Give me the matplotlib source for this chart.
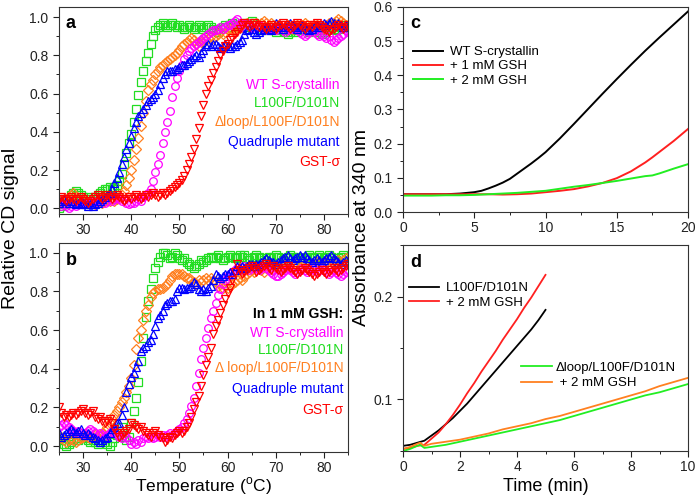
import numpy as np
import matplotlib
matplotlib.use("Agg")
import matplotlib.pyplot as plt
from matplotlib.ticker import MultipleLocator

plt.rcParams['font.family'] = ['Liberation Sans', 'DejaVu Sans']
plt.rcParams['mathtext.fontset'] = 'custom'
plt.rcParams['mathtext.rm'] = 'Liberation Sans'
plt.rcParams['axes.linewidth'] = 0.8

# ---------------- data ----------------
temperature = np.arange(25, 85.01, 0.5)

# Panel a (no GSH)
a_wt = [0.02,0.01,0.02,0.01,0.00,0.01,0.02,0.01,0.02,0.03,0.02,
        0.03,0.02,0.03,0.04,0.03,0.04,0.05,0.04,0.03,0.04,
        0.05,0.04,0.05,0.06,0.05,0.04,0.05,0.03,0.02,0.03,
        0.03,0.04,0.05,0.04,0.06,0.07,0.08,0.10,0.14,0.19,
        0.23,0.28,0.34,0.40,0.45,0.51,0.58,0.64,0.68,0.72,
        0.75,0.78,0.80,0.82,0.84,0.85,0.86,0.87,0.88,0.89,
        0.90,0.91,0.92,0.93,0.93,0.94,0.95,0.94,0.95,0.96,
        0.96,0.97,0.98,0.99,0.97,0.95,0.96,0.97,0.96,0.95,
        0.94,0.95,0.96,0.95,0.94,0.93,0.94,0.95,0.94,0.93,
        0.94,0.95,0.93,0.92,0.93,0.94,0.95,0.94,0.93,0.92,
        0.91,0.90,0.91,0.92,0.93,0.92,0.91,0.90,0.91,0.90,
        0.89,0.90,0.88,0.87,0.88,0.89,0.90,0.91,0.93,0.92]
a_l100f = [0.00,0.01,0.02,0.03,0.05,0.07,0.08,0.09,0.08,0.07,0.06,
           0.05,0.06,0.05,0.04,0.06,0.07,0.08,0.09,0.10,0.10,
           0.11,0.10,0.11,0.12,0.14,0.18,0.23,0.29,0.34,0.39,
           0.45,0.52,0.59,0.66,0.72,0.77,0.81,0.86,0.90,0.93,
           0.95,0.96,0.97,0.96,0.95,0.96,0.97,0.96,0.95,0.96,
           0.95,0.94,0.95,0.96,0.95,0.94,0.95,0.96,0.95,0.94,
           0.95,0.96,0.95,0.94,0.93,0.92,0.94,0.95,0.96,0.95,
           0.96,0.97,0.96,0.95,0.96,0.97,0.96,0.95,0.97,0.98,
           0.97,0.96,0.95,0.94,0.93,0.94,0.95,0.94,0.93,0.92,
           0.93,0.94,0.93,0.92,0.91,0.92,0.93,0.92,0.93,0.94,
           0.95,0.94,0.93,0.92,0.93,0.94,0.93,0.92,0.91,0.92,
           0.93,0.94,0.95,0.94,0.93,0.94,0.95,0.96,0.95,0.96]
a_dloop = [0.03,0.04,0.05,0.04,0.06,0.07,0.08,0.06,0.05,0.04,0.05,
           0.04,0.03,0.04,0.03,0.02,0.03,0.04,0.03,0.04,0.05,
           0.04,0.05,0.04,0.05,0.06,0.07,0.09,0.12,0.16,0.20,
           0.25,0.31,0.37,0.43,0.50,0.56,0.62,0.65,0.67,0.70,
           0.72,0.74,0.75,0.76,0.77,0.78,0.79,0.80,0.81,0.83,
           0.85,0.86,0.87,0.88,0.89,0.88,0.86,0.85,0.87,0.89,
           0.88,0.89,0.90,0.89,0.90,0.91,0.92,0.91,0.92,0.93,
           0.94,0.93,0.94,0.95,0.96,0.95,0.96,0.97,0.96,0.95,
           0.96,0.97,0.96,0.97,0.98,0.97,0.96,0.97,0.96,0.95,
           0.96,0.95,0.94,0.95,0.96,0.95,0.94,0.95,0.96,0.95,
           0.96,0.97,0.96,0.95,0.94,0.95,0.96,0.95,0.94,0.95,
           0.96,0.97,0.96,0.97,0.98,0.99,0.98,0.97,0.96,0.95]
a_quad = [0.03,0.04,0.05,0.04,0.03,0.04,0.03,0.02,0.03,0.02,0.03,
          0.02,0.01,0.02,0.01,0.02,0.03,0.04,0.05,0.06,0.07,
          0.08,0.10,0.13,0.16,0.19,0.23,0.27,0.31,0.34,0.38,
          0.42,0.45,0.48,0.50,0.52,0.54,0.56,0.57,0.58,0.60,
          0.62,0.65,0.68,0.70,0.72,0.72,0.72,0.73,0.73,0.74,
          0.75,0.75,0.76,0.77,0.78,0.79,0.80,0.79,0.81,0.83,
          0.85,0.86,0.85,0.86,0.86,0.85,0.84,0.85,0.86,0.85,
          0.84,0.85,0.85,0.86,0.87,0.88,0.91,0.93,0.94,0.94,
          0.92,0.91,0.92,0.93,0.94,0.95,0.94,0.93,0.95,0.97,
          0.96,0.95,0.94,0.95,0.96,0.97,0.96,0.95,0.94,0.95,
          0.96,0.95,0.94,0.93,0.94,0.95,0.96,0.95,0.96,0.97,
          0.96,0.97,0.98,0.97,0.96,0.97,0.96,0.95,0.96,0.95]
a_gst = [0.05,0.06,0.05,0.04,0.05,0.06,0.05,0.04,0.05,0.06,0.05,
         0.04,0.03,0.04,0.05,0.06,0.07,0.06,0.05,0.06,0.07,
         0.06,0.05,0.06,0.07,0.06,0.05,0.04,0.05,0.06,0.05,
         0.06,0.07,0.06,0.05,0.06,0.07,0.06,0.07,0.08,0.07,
         0.06,0.07,0.08,0.07,0.08,0.09,0.10,0.11,0.12,0.13,
         0.15,0.17,0.20,0.23,0.27,0.31,0.36,0.42,0.48,0.54,
         0.60,0.64,0.67,0.71,0.74,0.77,0.80,0.82,0.85,0.86,
         0.88,0.89,0.91,0.92,0.94,0.96,0.97,0.96,0.95,0.96,
         0.97,0.96,0.95,0.96,0.95,0.94,0.95,0.96,0.95,0.94,
         0.95,0.96,0.97,0.96,0.95,0.94,0.95,0.96,0.97,0.96,
         0.95,0.94,0.95,0.96,0.95,0.96,0.97,0.96,0.95,0.94,
         0.93,0.92,0.93,0.94,0.95,0.96,0.95,0.94,0.95,0.96]

# Panel b (1 mM GSH)
b_wt = [0.10,0.11,0.12,0.11,0.10,0.09,0.08,0.07,0.08,0.07,0.06,
        0.07,0.08,0.09,0.08,0.07,0.06,0.07,0.06,0.05,0.06,
        0.07,0.08,0.07,0.06,0.05,0.04,0.06,0.05,0.03,0.01,
        0.02,0.01,0.03,0.02,0.04,0.05,0.04,0.05,0.04,0.05,
        0.06,0.05,0.06,0.05,0.06,0.07,0.06,0.07,0.08,0.09,
        0.10,0.12,0.14,0.17,0.21,0.25,0.31,0.38,0.45,0.51,
        0.56,0.61,0.66,0.70,0.74,0.78,0.81,0.84,0.86,0.88,
        0.89,0.90,0.91,0.92,0.91,0.92,0.93,0.92,0.91,0.92,
        0.93,0.92,0.91,0.92,0.93,0.92,0.91,0.90,0.89,0.88,
        0.88,0.89,0.90,0.91,0.92,0.91,0.90,0.89,0.90,0.91,
        0.92,0.91,0.90,0.91,0.92,0.91,0.90,0.91,0.92,0.91,
        0.90,0.89,0.90,0.91,0.90,0.89,0.88,0.89,0.90,0.91]
b_l100f = [0.05,0.03,0.01,0.00,0.01,0.02,0.03,0.04,0.03,0.04,0.05,
           0.04,0.03,0.02,0.03,0.02,0.01,0.02,0.03,0.02,0.01,
           0.00,0.02,0.04,0.06,0.08,0.10,0.05,0.03,0.05,0.12,
           0.18,0.25,0.33,0.44,0.56,0.67,0.75,0.81,0.87,0.92,
           0.95,0.98,1.00,1.00,0.99,0.97,0.98,1.00,0.99,0.97,
           0.96,0.97,0.95,0.94,0.93,0.92,0.93,0.94,0.96,0.95,
           0.96,0.97,0.98,0.97,0.98,0.99,0.97,0.96,0.97,0.98,
           0.99,0.98,0.97,0.98,0.99,0.98,0.99,0.97,0.96,0.97,
           0.98,0.99,0.98,0.97,0.96,0.97,0.98,0.97,0.98,0.99,
           0.98,0.97,0.96,0.97,0.98,0.99,0.98,0.97,0.98,0.97,
           0.96,0.97,0.98,0.99,0.98,0.97,0.98,0.99,0.98,0.97,
           0.98,0.99,0.98,0.97,0.96,0.97,0.98,0.99,0.98,0.97]
b_dloop = [0.06,0.04,0.03,0.02,0.03,0.04,0.03,0.02,0.03,0.04,0.05,
           0.06,0.05,0.04,0.05,0.06,0.05,0.06,0.07,0.08,0.10,
           0.12,0.14,0.16,0.18,0.20,0.23,0.25,0.28,0.31,0.35,
           0.42,0.50,0.56,0.60,0.65,0.70,0.73,0.77,0.79,0.80,
           0.81,0.81,0.82,0.83,0.84,0.86,0.88,0.89,0.89,0.89,
           0.89,0.88,0.87,0.87,0.86,0.85,0.84,0.86,0.85,0.86,
           0.87,0.86,0.87,0.86,0.85,0.83,0.84,0.82,0.83,0.82,
           0.83,0.84,0.85,0.86,0.87,0.86,0.88,0.89,0.90,0.91,
           0.90,0.91,0.92,0.91,0.90,0.92,0.93,0.92,0.91,0.92,
           0.93,0.92,0.93,0.94,0.93,0.92,0.93,0.94,0.93,0.92,
           0.93,0.94,0.93,0.92,0.93,0.94,0.95,0.94,0.93,0.94,
           0.95,0.94,0.93,0.94,0.95,0.96,0.95,0.96,0.97,0.96]
b_quad = [0.07,0.05,0.06,0.07,0.08,0.09,0.08,0.07,0.08,0.09,0.07,
          0.06,0.07,0.06,0.05,0.04,0.03,0.02,0.03,0.04,0.05,
          0.07,0.09,0.10,0.12,0.12,0.16,0.20,0.28,0.32,0.36,
          0.38,0.41,0.44,0.49,0.51,0.52,0.54,0.55,0.58,0.62,
          0.66,0.68,0.70,0.73,0.74,0.75,0.75,0.76,0.80,0.82,
          0.82,0.81,0.82,0.82,0.83,0.85,0.84,0.81,0.80,0.81,
          0.80,0.82,0.83,0.86,0.89,0.88,0.87,0.88,0.89,0.89,
          0.90,0.89,0.91,0.93,0.92,0.93,0.92,0.93,0.94,0.94,
          0.93,0.94,0.94,0.95,0.96,0.97,0.96,0.95,0.95,0.94,
          0.95,0.96,0.97,0.98,0.99,0.97,0.96,0.97,0.98,0.99,
          0.98,0.99,0.97,0.96,0.95,0.96,0.97,0.96,0.95,0.96,
          0.97,0.98,0.99,0.97,0.96,0.95,0.94,0.95,0.96,0.95]
b_gst = [0.20,0.17,0.15,0.16,0.15,0.16,0.17,0.16,0.17,0.18,0.19,
         0.17,0.16,0.17,0.18,0.15,0.14,0.15,0.13,0.12,0.13,
         0.14,0.12,0.09,0.07,0.05,0.06,0.07,0.08,0.09,0.12,
         0.11,0.10,0.09,0.10,0.08,0.07,0.06,0.05,0.07,0.08,
         0.06,0.05,0.04,0.02,0.03,0.05,0.04,0.06,0.07,0.08,
         0.07,0.08,0.10,0.12,0.15,0.19,0.23,0.26,0.31,0.37,
         0.42,0.46,0.51,0.58,0.62,0.65,0.69,0.73,0.76,0.79,
         0.82,0.86,0.90,0.94,0.91,0.89,0.90,0.91,0.92,0.93,
         0.92,0.90,0.91,0.92,0.93,0.94,0.92,0.91,0.93,0.92,
         0.91,0.90,0.91,0.92,0.93,0.92,0.91,0.90,0.89,0.90,
         0.91,0.92,0.91,0.90,0.89,0.88,0.89,0.90,0.91,0.90,
         0.89,0.90,0.91,0.92,0.91,0.90,0.91,0.92,0.93,0.94]

# Panel c (turbidity, WT S-crystallin)
c_time = [0,1,2,3,3.5,4,4.5,5,5.5,6,6.5,7,7.5,8,8.5,9,9.5,10,11,12,13,14,15,16,17,18,19,20]
c_wt = [0.052,0.052,0.052,0.052,0.053,0.054,0.056,0.058,0.062,0.069,0.077,0.086,0.097,0.112,
        0.127,0.142,0.158,0.175,0.215,0.258,0.302,0.346,0.389,0.431,0.472,0.511,0.549,0.587]
c_time2 = [0,1,2,3,4,5,6,7,8,9,10,11,12,13,14,15,16,17,17.5,18,19,20]
c_gsh1 = [0.052,0.052,0.052,0.052,0.052,0.052,0.052,0.051,0.052,0.054,0.058,0.062,0.067,
          0.075,0.085,0.099,0.119,0.145,0.160,0.176,0.208,0.243]
c_gsh2 = [0.048,0.048,0.048,0.049,0.049,0.050,0.052,0.054,0.056,0.059,0.062,0.068,0.074,
          0.079,0.085,0.091,0.098,0.105,0.107,0.113,0.127,0.140]

# Panel d
d_time1 = [0,0.25,0.5,0.75,1,1.25,1.5,1.75,2,2.25,2.5,2.75,3,3.25,3.5,3.75,4,4.25,4.5,4.75,5]
d_l100f = [0.055,0.056,0.058,0.060,0.065,0.070,0.076,0.082,0.089,0.096,0.104,0.112,0.120,
           0.128,0.136,0.144,0.152,0.160,0.168,0.177,0.187]
d_l100f_gsh = [0.052,0.053,0.055,0.056,0.062,0.068,0.076,0.085,0.095,0.106,0.116,0.127,0.137,
               0.147,0.158,0.168,0.178,0.189,0.199,0.210,0.221]
d_time2 = [0,0.25,0.5,0.6,0.75,1,1.5,2,2.5,3,3.5,4,4.5,5,5.5,6,6.5,7,7.5,8,8.5,9,9.5,10]
d_dloop = [0.050,0.052,0.055,0.056,0.053,0.054,0.056,0.059,0.062,0.065,0.068,0.071,0.074,0.077,
           0.080,0.084,0.088,0.092,0.096,0.100,0.104,0.107,0.111,0.115]
d_dloop_gsh = [0.052,0.054,0.057,0.058,0.055,0.057,0.059,0.061,0.064,0.067,0.071,0.074,0.077,
               0.081,0.084,0.088,0.092,0.096,0.100,0.104,0.108,0.113,0.117,0.121]

col_wt = '#ff00ff'
col_l100f = '#22dd22'
col_dloop = '#ff8020'
col_quad = '#0000ff'
col_gst = '#ff0000'

W, H = 697, 497
fig = plt.figure(figsize=(W / 100, H / 100), dpi=100)

def rect(l, r, t, b):
    return [l / W, 1 - b / H, (r - l) / W, (b - t) / H]

ax_a = fig.add_axes(rect(59, 348, 7.5, 214))
ax_b = fig.add_axes(rect(59, 348, 243, 452))
ax_c = fig.add_axes(rect(403, 688, 7, 212))
ax_d = fig.add_axes(rect(403, 688, 245, 451))

def style(ax):
    ax.tick_params(which='both', direction='out', top=False, right=False,
                   labelsize=10, colors='#222222')
    ax.tick_params(which='major', length=4, width=0.8)
    ax.tick_params(which='minor', length=2.5, width=0.7)
    ax.tick_params(axis='x', which='major', pad=2.5)
    for s in ax.spines.values():
        s.set_color('#333333')

mk = dict(linestyle='none', markerfacecolor='none', markersize=5.5, markeredgewidth=0.9)

def melt_panel(ax, wt, l100f, dloop, quad, gst):
    ax.plot(temperature, l100f, marker='s', color=col_l100f, **mk)
    ax.plot(temperature, dloop, marker='D', color=col_dloop, **dict(mk, markersize=4.8))
    ax.plot(temperature, wt, marker='o', color=col_wt, **mk)
    ax.plot(temperature, quad, marker='^', color=col_quad, **mk)
    ax.plot(temperature, gst, marker='v', color=col_gst, **mk)
    ax.set_xlim(25, 85)
    ax.set_ylim(-0.03, 1.05)
    ax.xaxis.set_major_locator(MultipleLocator(10))
    ax.xaxis.set_minor_locator(MultipleLocator(5))
    ax.yaxis.set_major_locator(MultipleLocator(0.2))
    ax.yaxis.set_minor_locator(MultipleLocator(0.1))
    style(ax)

melt_panel(ax_a, a_wt, a_l100f, a_dloop, a_quad, a_gst)
melt_panel(ax_b, b_wt, b_l100f, b_dloop, b_quad, b_gst)

labels_a = [('WT S-crystallin', col_wt, 0.625), ('L100F/D101N', col_l100f, 0.538),
            ('\u0394loop/L100F/D101N', col_dloop, 0.446), ('Quadruple mutant', col_quad, 0.349),
            ('GST-\u03c3', col_gst, 0.252)]
for t, c, y in labels_a:
    ax_a.text(0.972, y, t, color=c, fontsize=10, ha='right', va='center', transform=ax_a.transAxes)

ax_b.text(0.985, 0.660, 'In 1 mM GSH:', color='black', fontsize=10, fontweight='bold',
          ha='right', va='center', transform=ax_b.transAxes)
labels_b = [('WT S-crystallin', col_wt, 0.569), ('L100F/D101N', col_l100f, 0.488),
            ('\u0394 loop/L100F/D101N', col_dloop, 0.402), ('Quadruple mutant', col_quad, 0.301),
            ('GST-\u03c3', col_gst, 0.201)]
for t, c, y in labels_b:
    ax_b.text(0.985, y, t, color=c, fontsize=10, ha='right', va='center', transform=ax_b.transAxes)

ax_b.set_xlabel('Temperature ($^{\\rm o}$C)', fontsize=12.5, va='center')
ax_b.xaxis.set_label_coords(0.5, -(486 - 452) / 209)
fig.text(11 / W, 1 - 228 / H, 'Relative CD signal', rotation=90, fontsize=14,
         ha='center', va='center')

# Panel c
ax_c.plot(c_time, c_wt, color='black', lw=1.4, label='WT S-crystallin')
ax_c.plot(c_time2, c_gsh1, color='#ff2020', lw=1.4, label='+ 1 mM GSH')
ax_c.plot(c_time2, c_gsh2, color='#22ee22', lw=1.4, label='+ 2 mM GSH')
ax_c.set_xlim(0, 20)
ax_c.set_ylim(0, 0.6)
ax_c.xaxis.set_major_locator(MultipleLocator(5))
ax_c.xaxis.set_minor_locator(MultipleLocator(2.5))
ax_c.yaxis.set_major_locator(MultipleLocator(0.1))
ax_c.yaxis.set_minor_locator(MultipleLocator(0.05))
style(ax_c)
ax_c.legend(loc='upper left', bbox_to_anchor=(0.035, 0.81), frameon=False, fontsize=9.5,
            handlelength=2.3, handletextpad=0.5, labelspacing=0.15, borderpad=0, borderaxespad=0)

# Panel d
l1, = ax_d.plot(d_time1, d_l100f, color='black', lw=1.3, label='L100F/D101N')
l2, = ax_d.plot(d_time1, d_l100f_gsh, color='#ff2020', lw=1.3, label='+ 2 mM GSH')
l3, = ax_d.plot(d_time2, d_dloop, color='#22ee22', lw=1.3, label='\u0394loop/L100F/D101N')
l4, = ax_d.plot(d_time2, d_dloop_gsh, color='#ff8020', lw=1.3, label=' + 2 mM GSH')
ax_d.set_xlim(0, 10)
ax_d.set_ylim(0.05, 0.25)
ax_d.xaxis.set_major_locator(MultipleLocator(2))
ax_d.xaxis.set_minor_locator(MultipleLocator(1))
ax_d.yaxis.set_major_locator(MultipleLocator(0.1))
ax_d.yaxis.set_minor_locator(MultipleLocator(0.05))
style(ax_d)
ax_d.set_xlabel('Time (min)', fontsize=13, va='center')
ax_d.xaxis.set_label_coords(0.5, -(487 - 451) / 206)
leg1 = ax_d.legend(handles=[l1, l2], loc='upper left', bbox_to_anchor=(0.02, 0.82), frameon=False,
                   fontsize=9.5, handlelength=2.3, handletextpad=0.5, labelspacing=0.15,
                   borderpad=0, borderaxespad=0)
ax_d.add_artist(leg1)
ax_d.legend(handles=[l3, l4], loc='upper left', bbox_to_anchor=(0.415, 0.435), frameon=False,
            fontsize=9.5, handlelength=2.3, handletextpad=0.3, labelspacing=0.25,
            borderpad=0, borderaxespad=0)

fig.text(362 / W, 1 - 228 / H, 'Absorbance at 340 nm', rotation=90, fontsize=14,
         ha='center', va='center')

# panel letters
ax_a.text(0.023, 0.90, 'a', fontsize=13, fontweight='bold', transform=ax_a.transAxes, va='baseline')
ax_b.text(0.023, 0.895, 'b', fontsize=13, fontweight='bold', transform=ax_b.transAxes, va='baseline')
ax_c.text(0.025, 0.896, 'c', fontsize=13, fontweight='bold', transform=ax_c.transAxes, va='baseline')
ax_d.text(0.025, 0.895, 'd', fontsize=13, fontweight='bold', transform=ax_d.transAxes, va='baseline')

fig.savefig('out.png', dpi=100)
